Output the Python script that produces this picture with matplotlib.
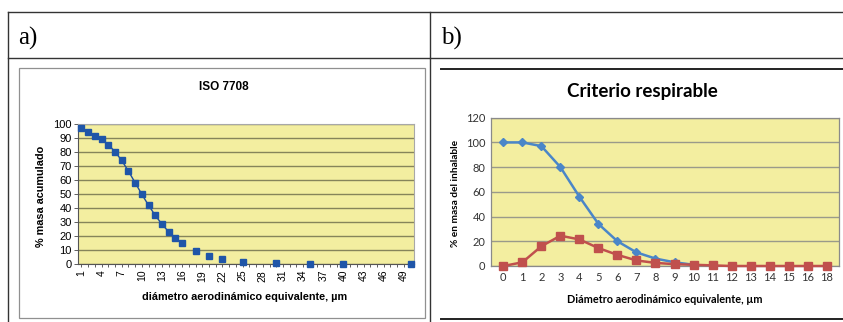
import numpy as np
import matplotlib

matplotlib.use('Agg')

import matplotlib.pyplot as plt
from matplotlib.lines import Line2D
from matplotlib.patches import Rectangle

# a) ISO 7708 - cumulative mass vs aerodynamic diameter
iso_d = [1, 2, 3, 4, 5, 6, 7, 8, 9, 10, 11, 12, 13, 14, 15, 16, 18, 20, 22, 25, 30, 35, 40, 50]
iso_pct = [97.1, 94.3, 91.7, 89.3, 85.4, 80.5, 74.2, 66.6, 58.3, 50.0, 42.1, 34.9,
           28.6, 23.2, 18.7, 15.0, 9.5, 5.9, 3.6, 1.8, 0.6, 0.2, 0.1, 0.0]

# b) Criterio respirable
resp_cats = ['0', '1', '2', '3', '4', '5', '6', '7', '8', '9', '10', '11', '12', '13', '14', '15', '16', '18']
resp_blue = [100, 100, 97, 80, 56, 34, 20, 11, 6, 3, 1]
resp_red = [0, 3, 16, 24.5, 21.5, 14.5, 9, 4.5, 2.5, 1.5, 1, 0.5, 0, 0, 0, 0, 0, 0]

W, H = 843, 322
fig = plt.figure(figsize=(W / 100, H / 100), dpi=100)


def fx(px):
    return px / W


def fy(py):
    return 1 - py / H


def hline(x0, x1, y, lw=1.0, c='#333333'):
    fig.add_artist(Line2D([fx(x0), fx(x1)], [fy(y), fy(y)], lw=lw, color=c))


def vline(x, y0, y1, lw=1.0, c='#333333'):
    fig.add_artist(Line2D([fx(x), fx(x)], [fy(y0), fy(y1)], lw=lw, color=c))


# table frame
hline(8, 843, 12)
hline(8, 843, 57.5)
vline(8, 12, 322)
vline(430, 12, 322)
fig.text(fx(18), fy(38), 'a)', family='Liberation Serif', fontsize=18, va='center', ha='left',
         stretch='condensed')
fig.text(fx(441), fy(38), 'b)', family='Liberation Serif', fontsize=18, va='center', ha='left')

# left chart frame
fig.add_artist(Rectangle((fx(18.5), fy(317.7)), fx(425.3 - 18.5), fy(68.3) - fy(317.7),
                         fill=False, ec='#909090', lw=0.9))
# right chart lines
hline(441, 843, 69.3, lw=1.4, c='#222222')
hline(441, 843, 319.3, lw=1.4, c='#222222')

yellow = '#f3eea0'

# ---------- a) ----------
ax1 = fig.add_axes([fx(78), fy(264.3), fx(414 - 78), fy(124.3) - fy(264.3)])
ax1.set_facecolor(yellow)
full_x = np.arange(1, 51)
full_y = np.full(full_x.shape, np.nan)
for d, p in zip(iso_d, iso_pct):
    full_y[d - 1] = p
ax1.plot(full_x, full_y, color='#1f4e9e', lw=1.0, marker='s', ms=4.8,
         mfc='#1f55a8', mec='#1f55a8', clip_on=False, zorder=3)
ax1.set_xlim(0.5, 50.5)
ax1.set_ylim(0, 100)
ax1.set_yticks(range(0, 101, 10))
ax1.set_xticks(full_x)
ax1.set_xticklabels([str(v) if (v - 1) % 3 == 0 else '' for v in full_x],
                    rotation=90, fontsize=7.5, family='Liberation Sans')
for lab in ax1.get_yticklabels():
    lab.set_fontsize(8)
    lab.set_family('Liberation Sans')
ax1.tick_params(axis='x', length=2.5, width=0.6, pad=1.5, colors='#444444', labelcolor='black')
ax1.tick_params(axis='y', length=3, width=0.6, pad=1.5, colors='#444444', labelcolor='black')
ax1.grid(axis='y', color='#86845a', lw=1.0)
ax1.set_axisbelow(True)
for s in ['top', 'right']:
    ax1.spines[s].set_color('#a8a8a8')
for s in ['left', 'bottom']:
    ax1.spines[s].set_color('#555555')
    ax1.spines[s].set_linewidth(0.8)
fig.text(fx(224), fy(87), 'ISO 7708', ha='center', va='center', fontsize=8.5,
         weight='bold', family='Liberation Sans')
fig.text(fx(41), fy(196), '% masa acumulado', ha='center', va='center', rotation=90,
         fontsize=7.8, weight='bold', family='Liberation Sans')
fig.text(fx(245), fy(297), 'diámetro aerodinámico equivalente, µm', ha='center', va='center',
         fontsize=7.8, weight='bold', family='Liberation Sans')

# ---------- b) ----------
ax2 = fig.add_axes([fx(491), fy(266), fx(839 - 491), fy(117.7) - fy(266)])
ax2.set_facecolor(yellow)
xb = np.arange(len(resp_cats))
ax2.plot(xb[:len(resp_blue)], resp_blue, color='#4a86c8', lw=1.8, marker='D', ms=4,
         mfc='#4a86c8', mec='#4a86c8', zorder=3, clip_on=False)
ax2.plot(xb, resp_red, color='#c0504d', lw=1.8, marker='s', ms=6,
         mfc='#c0504d', mec='#c0504d', zorder=4, clip_on=False)
ax2.set_xlim(-0.65, len(resp_cats) - 0.35)
ax2.set_ylim(0, 120)
ax2.set_yticks(range(0, 121, 20))
ax2.set_xticks(xb)
ax2.set_xticklabels(resp_cats, fontsize=8, family='Lato', color='#333333')
for lab in ax2.get_yticklabels():
    lab.set_fontsize(8)
    lab.set_family('Lato')
    lab.set_color('#333333')
ax2.tick_params(axis='both', length=0, pad=4)
ax2.grid(axis='y', color='#9a9a8a', lw=1.0)
ax2.set_axisbelow(True)
for s in ax2.spines.values():
    s.set_color('#8a8a8a')
    s.set_linewidth(0.9)
fig.text(fx(642), fy(92), 'Criterio respirable', ha='center', va='center', fontsize=13.5,
         weight='bold', family='Lato')
fig.text(fx(455), fy(193), '% en masa del inhalable', ha='center', va='center', rotation=90,
         fontsize=7.3, weight='bold', family='Lato')
fig.text(fx(665), fy(299.5), 'Diámetro aerodinámico equivalente, µm', ha='center', va='center',
         fontsize=7.8, weight='bold', family='Lato')

fig.savefig('out.png', dpi=100)
